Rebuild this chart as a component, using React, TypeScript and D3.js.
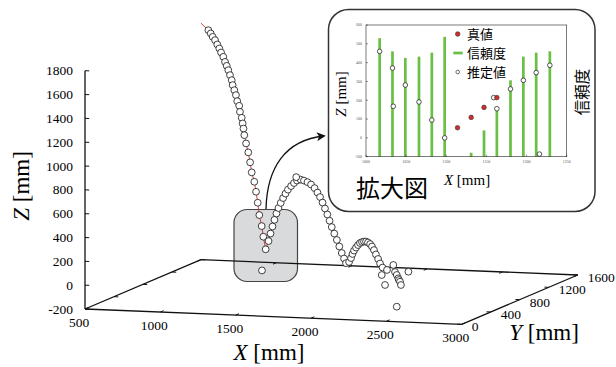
import React from 'react';
import * as d3 from 'd3';

const W = 616;
const H = 367;

// ball trajectory (mm)
const pathX = [532, 595, 615, 632, 652, 671, 688, 703, 722, 737, 751, 765, 779, 794, 802, 816, 830, 841, 858, 864, 879, 887, 894, 901, 916, 935, 950, 964, 986, 1001, 1015, 1029, 1049, 1063, 1083, 1107, 1124, 1141, 1158, 1175, 1192, 1211, 1231, 1252, 1273, 1299, 1324, 1350, 1380, 1409, 1439, 1469, 1499, 1524, 1546, 1567, 1588, 1608, 1627, 1646, 1667, 1689, 1710, 1731, 1750, 1767, 1793, 1810, 1822, 1835, 1852, 1869, 1886, 1903, 1920, 1937, 1954, 1972, 1988, 2005, 2022, 2040, 2057, 2078, 2116];
const pathY = [1533, 1504, 1495, 1487, 1478, 1469, 1462, 1455, 1446, 1439, 1433, 1426, 1420, 1413, 1409, 1403, 1396, 1391, 1383, 1381, 1374, 1370, 1367, 1364, 1357, 1348, 1342, 1335, 1325, 1318, 1312, 1305, 1296, 1290, 1280, 1270, 1262, 1254, 1246, 1238, 1230, 1222, 1213, 1203, 1193, 1182, 1170, 1158, 1145, 1131, 1117, 1104, 1090, 1078, 1068, 1059, 1049, 1040, 1031, 1022, 1013, 1003, 993, 983, 975, 967, 955, 947, 942, 936, 928, 920, 912, 905, 897, 889, 881, 873, 866, 858, 850, 842, 834, 824, 807];
const pathZ = [1804, 1756, 1732, 1706, 1682, 1649, 1618, 1587, 1554, 1514, 1483, 1449, 1410, 1370, 1330, 1290, 1251, 1202, 1166, 1116, 1069, 1023, 981, 927, 860, 788, 707, 625, 550, 469, 379, 278, 189, 102, 0, 73, 139, 201, 260, 316, 365, 411, 455, 496, 533, 567, 597, 622, 635, 632, 624, 609, 584, 551, 517, 474, 428, 381, 332, 282, 231, 181, 130, 79, 36, 0, 14, 50, 86, 117, 145, 169, 189, 200, 207, 210, 205, 195, 177, 150, 116, 81, 46, 16, 2];

// estimates off the path
const strayX = [2170, 2184, 2199, 2212, 2218, 2227, 2235, 2099, 2071, 2298, 2199, 1216, 1343];
const strayY = [782, 776, 769, 763, 760, 756, 752, 815, 828, 724, 769, 953, 1161];
const strayZ = [53, -4, -26, -52, -65, -78, -104, -127, -48, 18, -292, -86, 650];

const xTicks = [500, 1000, 1500, 2000, 2500, 3000];
const yTicks = [0, 400, 800, 1200, 1600];
const zTicks = [-200, 0, 200, 400, 600, 800, 1000, 1200, 1400, 1600, 1800];

// inset (zoom of the first bounce)
const frameX = [1017, 1033, 1049, 1066, 1082, 1098, 1114, 1131, 1147, 1163, 1180, 1196, 1212, 1229];
const confidence = [0.9, 0.8, 0.75, 0.76, 0.79, 0.91, 0, 0.03, 0.2, 0.35, 0.58, 0.76, 0.79, 0.8];
const trueX = [1114, 1131, 1147, 1163];
const trueZ = [54, 109, 162, 214];
const estX = [1017, 1033, 1034, 1049, 1066, 1082, 1098, 1159, 1163, 1180, 1196, 1212, 1216, 1229];
const estZ = [460, 371, 168, 281, 191, 95, 0, 214, 155, 260, 306, 347, -86, 386];
const insetXTicks = [1000, 1050, 1100, 1150, 1200, 1250];
const insetZTicks = [-100, 0, 100, 200, 300, 400, 500, 600];
const legendLabels = ['真値', '信頼度', '推定値'];

const serif = '"Liberation Serif", "DejaVu Serif", serif';
const jp = '"Noto Sans CJK JP", sans-serif';
const green = '#6abf45';
const red = '#d52b2b';

// oblique projection of the 3D box
const origin = [85, 309];
const eX = [376.7, 15.3];
const eY = [116, -49.3];
const eZ = [0, -238.3];
const u = d3.scaleLinear().domain([500, 3000]).range([0, 1]);
const v = d3.scaleLinear().domain([0, 1600]).range([0, 1]);
const w = d3.scaleLinear().domain([-200, 1800]).range([0, 1]);
const proj = (x: number, y: number, z: number): [number, number] => [
  origin[0] + u(x) * eX[0] + v(y) * eY[0] + w(z) * eZ[0],
  origin[1] + u(x) * eX[1] + v(y) * eY[1] + w(z) * eZ[1],
];

const seg = (a: [number, number], b: [number, number], key: string, sw = 1.3) => (
  <line key={key} x1={a[0]} y1={a[1]} x2={b[0]} y2={b[1]} stroke="#111" strokeWidth={sw} />
);

export default function App() {
  const zMin = -200;
  const pts = pathX.map((x, i) => proj(x, pathY[i], pathZ[i]));
  const stray = strayX.map((x, i) => proj(x, strayY[i], strayZ[i]));
  const line = d3.line();

  // inset scales
  const ix = d3.scaleLinear().domain([1000, 1250]).range([366, 566.7]);
  const iz = d3.scaleLinear().domain([-100, 600]).range([156.7, 25]);
  const ic = d3.scaleLinear().domain([0, 1]).range([156.7, 25]);
  const legendY = [34, 53, 72];

  return (
    <svg width={W} height={H} style={{ position: 'absolute', left: 0, top: 0, background: '#fff' }}>
      <defs>
        <marker id="arr" viewBox="0 0 10 10" refX="8" refY="5" markerWidth="9" markerHeight="9" orient="auto" markerUnits="userSpaceOnUse">
          <path d="M0,0 L10,5 L0,10 L2.5,5 Z" fill="#111" />
        </marker>
      </defs>

      {/* highlighted region */}
      <rect x={234} y={209.5} width={63.5} height={72} rx={13} fill="#d9dadb" stroke="#444" strokeWidth={1.2} />

      {/* box edges */}
      {seg(proj(500, 0, zMin), proj(3000, 0, zMin), 'fx')}
      {seg(proj(500, 0, zMin), proj(500, 1600, zMin), 'ly')}
      {seg(proj(500, 1600, zMin), proj(3000, 1600, zMin), 'bx')}
      {seg(proj(3000, 0, zMin), proj(3000, 1600, zMin), 'ry')}
      {seg(proj(500, 0, zMin), proj(500, 0, 1800), 'za')}

      {xTicks.map((t) => (
        <g key={'xt' + t}>
          {seg(proj(t, 0, zMin), proj(t, 45, zMin), 'a', 1)}
          {seg(proj(t, 1600, zMin), proj(t, 1555, zMin), 'b', 1)}
          <text x={proj(t, 0, zMin)[0] - 6} y={proj(t, 0, zMin)[1] + 17.5} fontFamily={serif} fontSize={13.5} textAnchor="middle">{t}</text>
        </g>
      ))}
      {yTicks.map((t) => (
        <g key={'yt' + t}>
          {seg(proj(500, t, zMin), proj(528, t, zMin), 'a', 1)}
          {seg(proj(3000, t, zMin), proj(2972, t, zMin), 'b', 1)}
          <text x={proj(3000, t, zMin)[0] + 10} y={proj(3000, t, zMin)[1] + 7} fontFamily={serif} fontSize={13.5}>{t}</text>
        </g>
      ))}
      {zTicks.map((t) => (
        <g key={'zt' + t}>
          {seg(proj(500, 0, t), proj(528, 0, t), 'a', 1)}
          <text x={73} y={proj(500, 0, t)[1] + 4.5} fontFamily={serif} fontSize={13.5} textAnchor="end">{t}</text>
        </g>
      ))}

      <text transform="translate(29,186) rotate(-90)" fontFamily={serif} fontSize={23} textAnchor="middle">
        <tspan fontStyle="italic">Z</tspan> [mm]
      </text>
      <text x={269} y={360} fontFamily={serif} fontSize={23} textAnchor="middle">
        <tspan fontStyle="italic">X</tspan> [mm]
      </text>
      <text x={544} y={340} fontFamily={serif} fontSize={23} textAnchor="middle">
        <tspan fontStyle="italic">Y</tspan> [mm]
      </text>

      {/* trajectory */}
      <path d={line(pts) ?? ''} fill="none" stroke={red} strokeWidth={0.9} />
      {pts.slice(1).map((p, i) => (
        <circle key={'p' + i} cx={p[0]} cy={p[1]} r={3.4} fill="#fff" stroke="#111" strokeWidth={0.8} />
      ))}
      {stray.map((p, i) => (
        <circle key={'s' + i} cx={p[0]} cy={p[1]} r={3.4} fill="#fff" stroke="#111" strokeWidth={0.8} />
      ))}

      {/* call-out arrow */}
      <path d="M266,209 C267,168 285,140 324,136" fill="none" stroke="#111" strokeWidth={1.3} markerEnd="url(#arr)" />

      {/* inset */}
      <rect x={328.5} y={9.5} width={266.5} height={202} rx={20} fill="#fff" stroke="#333" strokeWidth={1.5} />
      {frameX.map((x, i) => (
        <rect key={'c' + i} x={ix(x) - 1.35} y={ic(confidence[i])} width={2.7} height={ic(0) - ic(confidence[i])} fill={green} />
      ))}
      <rect x={366} y={25} width={200.7} height={131.7} fill="none" stroke="#222" strokeWidth={0.6} />
      {insetXTicks.map((t) => (
        <g key={'ixt' + t}>
          <line x1={ix(t)} x2={ix(t)} y1={156.7} y2={154.7} stroke="#222" strokeWidth={0.5} />
          <text x={ix(t)} y={163} fontFamily={serif} fontSize={4} textAnchor="middle" fill="#555">{t}</text>
        </g>
      ))}
      {insetZTicks.map((t) => (
        <g key={'izt' + t}>
          <line x1={366} x2={368} y1={iz(t)} y2={iz(t)} stroke="#222" strokeWidth={0.5} />
          <text x={362} y={iz(t) + 1.4} fontFamily={serif} fontSize={4} textAnchor="end" fill="#555">{t}</text>
        </g>
      ))}
      {estX.map((x, i) => (
        <circle key={'e' + i} cx={ix(x)} cy={iz(estZ[i])} r={2.3} fill="#fff" stroke="#111" strokeWidth={0.7} />
      ))}
      {trueX.map((x, i) => (
        <circle key={'t' + i} cx={ix(x)} cy={iz(trueZ[i])} r={2.3} fill={red} stroke="#333" strokeWidth={0.6} />
      ))}

      {/* legend */}
      <circle cx={457.7} cy={legendY[0]} r={2.3} fill={red} stroke="#333" strokeWidth={0.6} />
      <rect x={453.3} y={legendY[1] - 1.35} width={9.4} height={2.7} fill={green} />
      <circle cx={457.7} cy={legendY[2]} r={1.8} fill="#fff" stroke="#111" strokeWidth={0.6} />
      {legendLabels.map((s, i) => (
        <text key={s} x={467} y={legendY[i] + 4.6} fontFamily={jp} fontSize={13}>{s}</text>
      ))}

      <text transform="translate(346,94) rotate(-90)" fontFamily={serif} fontSize={15} textAnchor="middle">
        <tspan fontStyle="italic">Z</tspan> [mm]
      </text>
      <text x={467} y={185} fontFamily={serif} fontSize={15} textAnchor="middle">
        <tspan fontStyle="italic">X</tspan> [mm]
      </text>
      <text transform="translate(588,92) rotate(-90)" fontFamily={jp} fontSize={15.5} textAnchor="middle">信頼度</text>
      <text x={356} y={197} fontFamily={jp} fontSize={24}>拡大図</text>
    </svg>
  );
}
